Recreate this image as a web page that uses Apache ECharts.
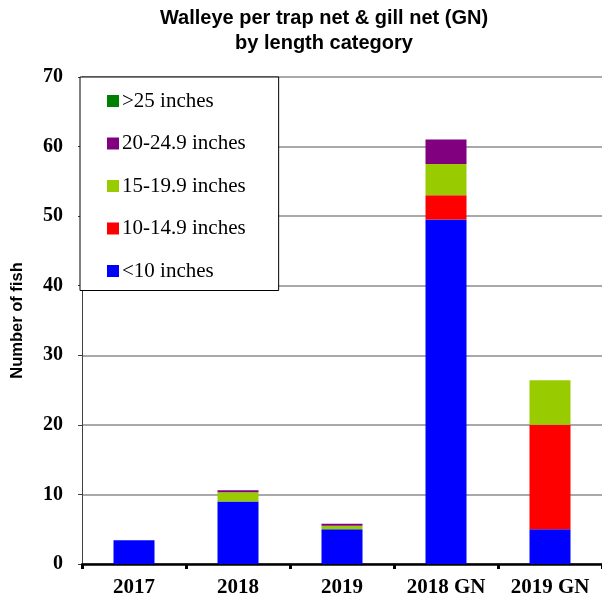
<!DOCTYPE html>
<html>
<head>
<meta charset="utf-8">
<script src="https://cdn.jsdelivr.net/npm/echarts@6/dist/echarts.min.js"></script>
<style>
  html, body { margin: 0; padding: 0; background: #fff; }
  #chart { width: 602px; height: 599px; }
</style>
</head>
<body>
<div id="chart"></div>
<script>
// categories and stacked values (number of fish)
const categories = ['2017', '2018', '2019', '2018 GN', '2019 GN'];
const under10 = [3.4, 9.0, 5.0, 49.5, 5.0];
const from10to14 = [0, 0, 0, 3.5, 15.0];
const from15to19 = [0, 1.3, 0.5, 4.5, 6.4];
const from20to24 = [0, 0.3, 0.3, 3.5, 0];
const over25 = [0, 0, 0, 0, 0];
const yTicks = [0, 10, 20, 30, 40, 50, 60, 70];

const seriesNames = ['<10 inches', '10-14.9 inches', '15-19.9 inches', '20-24.9 inches', '>25 inches'];
const seriesData = [under10, from10to14, from15to19, from20to24, over25];
const seriesColors = ['#0000FF', '#FF0000', '#99CC00', '#800080', '#008000'];

let chart = echarts.init(document.getElementById('chart'));
chart.setOption({
  animation: false,
  title: {
    text: 'Walleye per trap net & gill net (GN)\nby length category',
    left: 319,
    textAlign: 'center',
    top: 1,
    textStyle: {
      fontFamily: 'Liberation Sans, Arial',
      fontWeight: 'bold',
      fontSize: 20,
      lineHeight: 25,
      color: '#000'
    }
  },
  legend: {
    orient: 'vertical',
    left: 80,
    top: 77,
    padding: [13.5, 33, 9, 27],
    itemGap: 21.5,
    itemWidth: 12,
    itemHeight: 12,
    icon: 'rect',
    backgroundColor: '#fff',
    borderColor: '#000',
    borderWidth: 1,
    data: seriesNames.slice().reverse(),
    textStyle: {
      fontFamily: 'Liberation Serif, Times New Roman',
      fontSize: 21,
      color: '#000',
      padding: [0, 0, 0, -2]
    }
  },
  grid: {
    left: 82,
    right: 0,
    top: 77,
    bottom: 35,
    outerBoundsMode: 'none'
  },
  xAxis: {
    type: 'category',
    data: categories,
    axisLine: { lineStyle: { color: '#000', width: 2.5 } },
    axisTick: { show: true, length: 5, lineStyle: { color: '#000', width: 3 } },
    axisLabel: {
      margin: 13,
      fontFamily: 'Liberation Serif, Times New Roman',
      fontWeight: 'bold',
      fontSize: 21,
      color: '#000'
    }
  },
  yAxis: {
    type: 'value',
    min: yTicks[0],
    max: yTicks[yTicks.length - 1],
    interval: 10,
    name: 'Number of fish',
    nameLocation: 'middle',
    nameGap: 56,
    nameTextStyle: {
      fontFamily: 'Liberation Sans, Arial',
      fontWeight: 'bold',
      fontSize: 16.5,
      color: '#000'
    },
    axisLine: { show: true, lineStyle: { color: '#404040', width: 1 } },
    axisTick: { show: true, length: 4, lineStyle: { color: '#404040' } },
    axisLabel: {
      margin: 19,
      fontFamily: 'Liberation Serif, Times New Roman',
      fontWeight: 'bold',
      fontSize: 20,
      color: '#000'
    },
    splitLine: { lineStyle: { color: '#8c8c8c', width: 1.5 } }
  },
  series: seriesNames.map((name, i) => ({
    name: name,
    type: 'bar',
    stack: 'fish',
    barWidth: 41,
    data: seriesData[i],
    itemStyle: { color: seriesColors[i] }
  }))
});
</script>
</body>
</html>
